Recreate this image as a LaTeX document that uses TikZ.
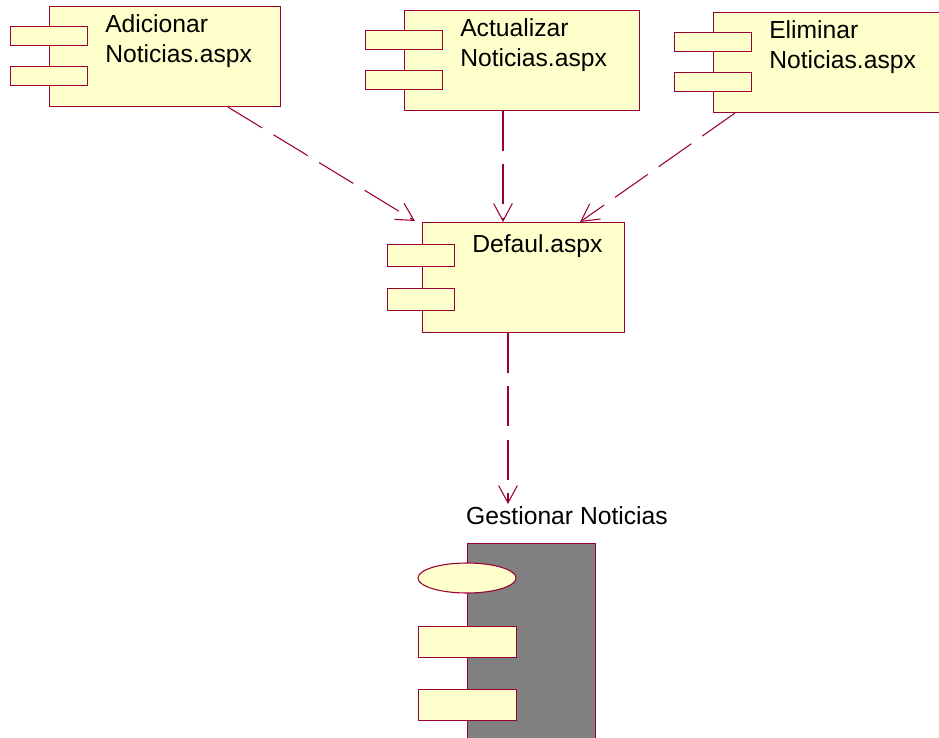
\documentclass[tikz,border=0pt]{standalone}
\usepackage{fontspec}
\setmainfont{Liberation Sans}
\usetikzlibrary{arrows.meta,calc,shapes.geometric}
\definecolor{umlred}{HTML}{990033}
\definecolor{umlyellow}{HTML}{FFFFCC}

\begin{document}
\begin{tikzpicture}[x=0.75pt,y=-0.75pt,
    box/.style={draw=umlred,fill=umlyellow,line width=0.8pt,inner sep=0pt,anchor=north west},
    port/.style={box,minimum width=57.75pt,minimum height=14.25pt},
    dep/.style={umlred,line width=0.8pt,dash pattern=on 30pt off 10pt,-{Straight Barb[length=13pt,width=14pt]}},
    txt/.style={anchor=north west,align=left,inner sep=0pt,font=\fontsize{18.5}{23}\selectfont}]
  \useasboundingbox (0,0) rectangle (939,738);

  % the three pages on top
  \foreach \nm/\x/\y/\w/\lbl in {add/49/6/231/Adicionar,upd/404/10/235/Actualizar,del/713/12/226/Eliminar} {
    \node[box,minimum width=\w*0.75pt,minimum height=75pt] (\nm) at (\x,\y) {};
    \node[port] (\nm-a) at ($(\nm.north west)+(-39,20)$) {};
    \node[port] (\nm-b) at ($(\nm.north west)+(-39,60)$) {};
    \node[txt] (\nm-txt) at ($(\nm.north west)+(56,8)$) {\lbl\\Noticias.aspx};
  }

  % default page
  \node[box,minimum width=151.5pt,minimum height=82.5pt] (def) at (422,222) {};
  \node[port,minimum width=50.25pt,minimum height=16.5pt] (def-a) at ($(def.north west)+(-35,22)$) {};
  \node[port,minimum width=50.25pt,minimum height=16.5pt] (def-b) at ($(def.north west)+(-35,66)$) {};
  \node[txt] (def-txt) at ($(def.north west)+(50,12)$) {Defaul.aspx};

  % gestionar (grey)
  \node[box,fill=gray,minimum width=96pt,minimum height=150pt] (gest) at (467,543) {};
  \node[draw=umlred,fill=umlyellow,line width=0.8pt,ellipse,inner sep=0pt,
        minimum width=73.5pt,minimum height=22.5pt] (gest-o) at ($(gest.north west)+(0,35)$) {};
  \node[port,minimum width=73.5pt,minimum height=23.25pt] (gest-a) at ($(gest.north west)+(-49,83)$) {};
  \node[port,minimum width=73.5pt,minimum height=23.25pt] (gest-b) at ($(gest.north west)+(-49,146)$) {};
  \node[inner sep=2pt,font=\fontsize{18.5}{23}\selectfont] (gest-txt) at (567,516) {Gestionar Noticias};

  % dependencies
  \draw[dep] ($(add.south west)+(179,0)$) -- ($(def.north west)+(-7,-1)$);
  \draw[dep] ($(upd.south west)+(99,0)$) -- ($(def.north west)+(81,0)$);
  \draw[dep] ($(del.south west)+(22,0)$) -- ($(def.north west)+(158,0)$);
  \coordinate (def-out) at ($(def.south west)+(86,0)$);
  \draw[dep] (def-out) -- (def-out |- gest-txt.north);
\end{tikzpicture}
\end{document}
